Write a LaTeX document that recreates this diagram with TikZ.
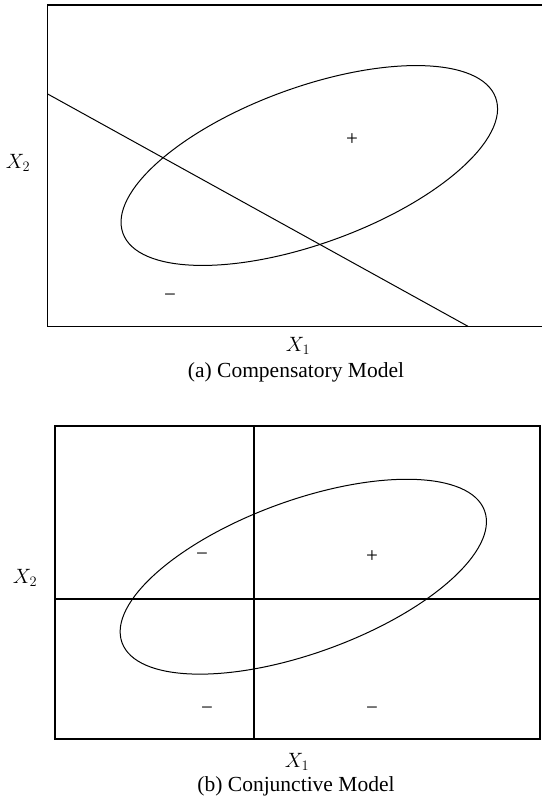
\documentclass[tikz,border=0pt]{standalone}
\usepackage{fontspec}
\setmainfont{Liberation Serif}
\begin{document}
\begin{tikzpicture}[x=1pt,y=-1pt,
  frame/.style={line width=1.2pt},
  curve/.style={line width=1pt},
  lbl/.style={inner sep=0pt,font=\fontsize{21.5}{24}\selectfont},
  sgn/.style={inner sep=0pt,font=\fontsize{21}{24}\selectfont}]
\useasboundingbox (0,0) rectangle (541,800);
% ---- panel (a)
\draw[frame] (47.7,5) rectangle (545,326.5);
\coordinate (ca) at (309.3,165.5);
\draw[curve] (ca) ellipse [x radius=198.3pt, y radius=78.1pt, rotate=20];
\coordinate (la) at (47.7,94);
\coordinate (lb) at (468.3,326.5);
\draw[curve] (la) -- (lb);
\node[sgn] (pa) at (352,140) {+};
\node[sgn] (ma) at (170,297.5) {−};
\node[lbl] (x2a) at (18,163) {$X_2$};
\node[lbl] (x1a) at (298,346) {$X_1$};
\node[lbl] (capa) at (296,372) {(a) Compensatory Model};
% ---- panel (b)
\draw[frame] (55,426) rectangle (540,739);
\coordinate (cb) at (303.3,576.7);
\draw[curve] (cb) ellipse [x radius=192.9pt, y radius=76.3pt, rotate=20];
\draw[frame] (254,426) -- (254,739);
\draw[frame] (55,599) -- (540,599);
\node[sgn] (mb1) at (202,556.7) {−};
\node[sgn] (pb) at (372,556.7) {+};
\node[sgn] (mb2) at (207,711) {−};
\node[sgn] (mb3) at (372,711) {−};
\node[lbl] (x2b) at (25,578) {$X_2$};
\node[lbl] (x1b) at (297,762) {$X_1$};
\node[lbl] (capb) at (296,786) {(b) Conjunctive Model};
\end{tikzpicture}
\end{document}
